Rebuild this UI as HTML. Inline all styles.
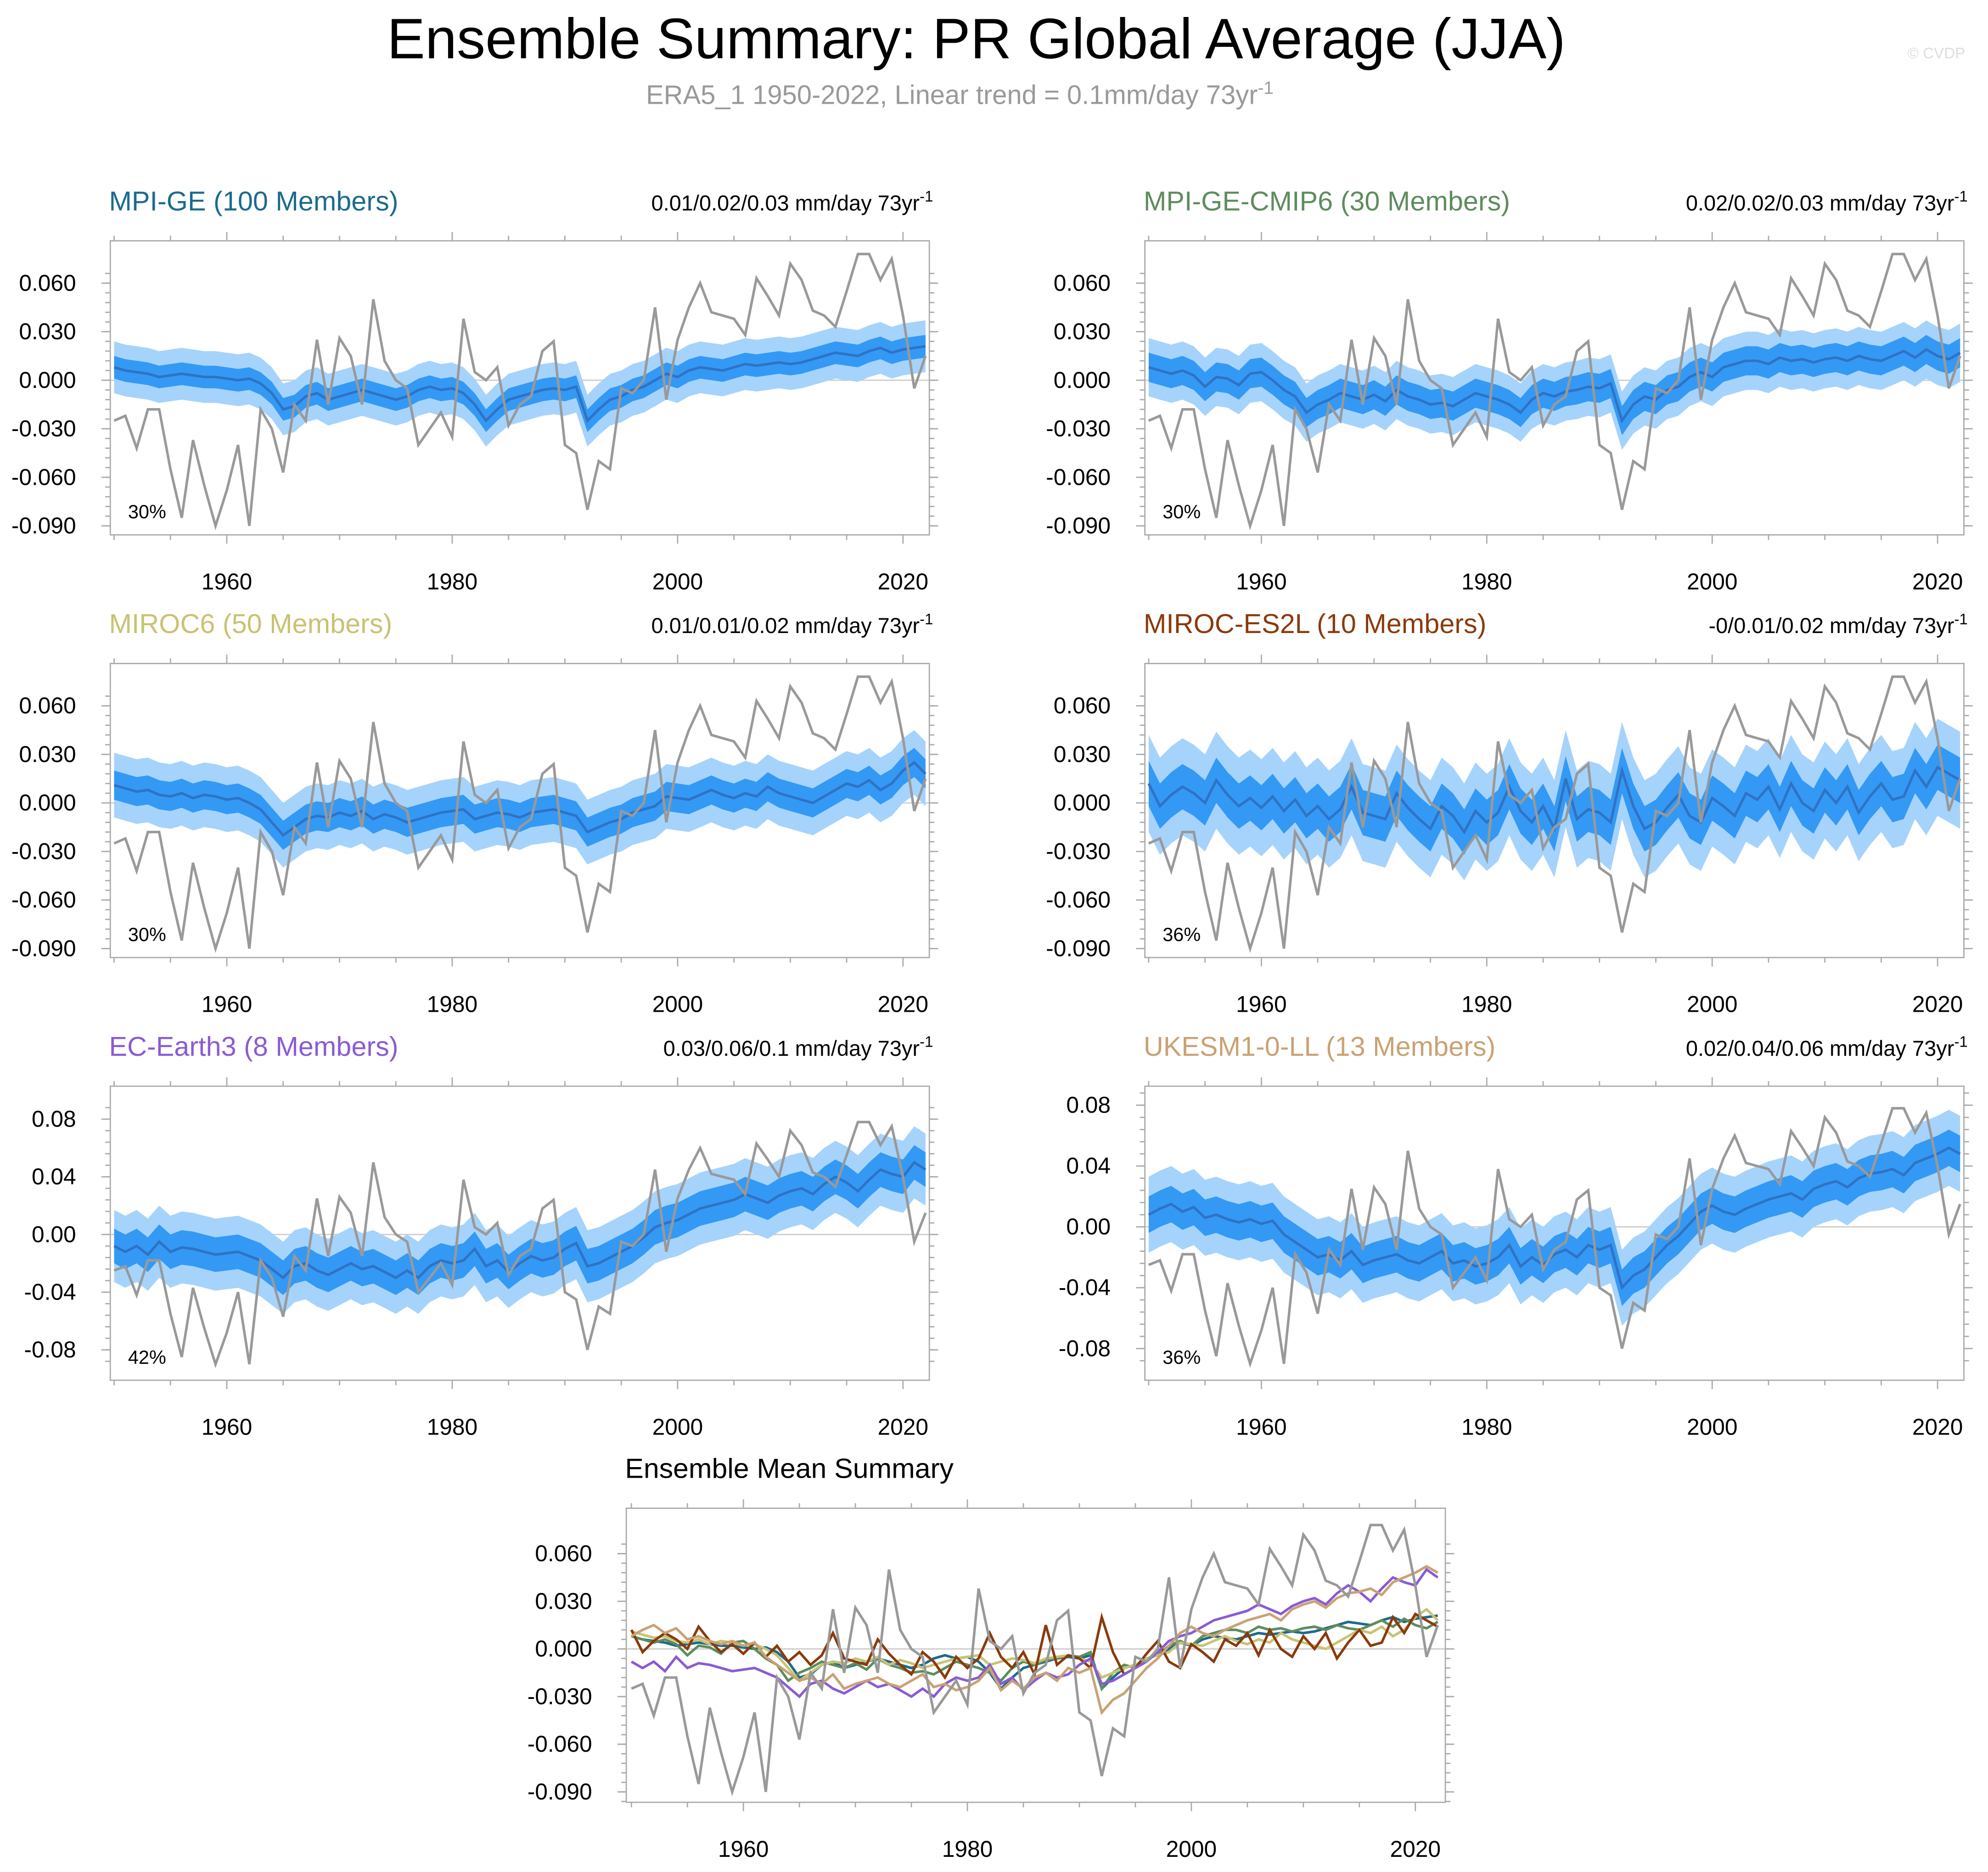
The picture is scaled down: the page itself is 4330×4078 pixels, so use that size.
<!DOCTYPE html>
<html><head><meta charset="utf-8"><style>
html,body{margin:0;padding:0;background:#fff;}
svg{display:block;font-family:"Liberation Sans",Arial,sans-serif;}
</style></head><body>
<svg id="c" width="4330" height="4078" viewBox="0 0 1568 1477" preserveAspectRatio="none" xmlns="http://www.w3.org/2000/svg">
<text x="770" y="46" text-anchor="middle" font-size="45" fill="#000">Ensemble Summary: PR Global Average (JJA)</text>
<text x="757" y="82" text-anchor="middle" font-size="21" fill="#999">ERA5_1 1950-2022, Linear trend = 0.1mm/day 73yr<tspan dy="-8" font-size="14">-1</tspan></text>
<text x="1550" y="46" text-anchor="end" font-size="12" fill="#ddd">© CVDP</text>
</svg>
<script>
const obs=[-0.025,-0.022,-0.042,-0.018,-0.018,-0.055,-0.085,-0.037,-0.065,-0.090,-0.068,-0.040,-0.090,-0.018,-0.030,-0.057,-0.015,-0.025,0.025,-0.015,0.026,0.015,-0.015,0.050,0.012,0.000,-0.005,-0.040,-0.030,-0.020,-0.035,0.038,0.005,0.000,0.008,-0.028,-0.015,-0.010,0.018,0.024,-0.040,-0.045,-0.080,-0.050,-0.055,-0.005,-0.008,0.000,0.045,-0.012,0.025,0.045,0.060,0.042,0.040,0.038,0.028,0.063,0.052,0.040,0.072,0.062,0.043,0.040,0.033,0.055,0.078,0.078,0.062,0.075,0.040,-0.005,0.015];
const mpige=[0.008,0.006,0.005,0.004,0.002,0.003,0.004,0.003,0.002,0.002,0.001,0.000,0.001,-0.002,-0.008,-0.018,-0.016,-0.010,-0.008,-0.012,-0.010,-0.008,-0.006,-0.008,-0.010,-0.012,-0.010,-0.006,-0.004,-0.006,-0.005,-0.008,-0.015,-0.025,-0.018,-0.012,-0.010,-0.008,-0.006,-0.005,-0.006,-0.004,-0.025,-0.018,-0.012,-0.010,-0.006,-0.004,0.000,0.004,0.002,0.006,0.008,0.007,0.006,0.008,0.010,0.009,0.010,0.011,0.010,0.011,0.013,0.015,0.017,0.016,0.015,0.018,0.020,0.017,0.019,0.020,0.021];
const mpicmip6=[0.008,0.006,0.004,0.006,0.003,-0.004,0.002,0.001,-0.003,0.004,0.005,0.000,-0.006,-0.010,-0.020,-0.015,-0.012,-0.008,-0.010,-0.012,-0.009,-0.013,-0.006,-0.010,-0.012,-0.015,-0.014,-0.016,-0.012,-0.008,-0.010,-0.012,-0.015,-0.020,-0.012,-0.008,-0.010,-0.007,-0.006,-0.004,-0.005,-0.002,-0.025,-0.015,-0.010,-0.012,-0.006,-0.004,0.002,0.005,0.002,0.008,0.010,0.012,0.012,0.010,0.014,0.012,0.013,0.011,0.013,0.014,0.012,0.015,0.013,0.012,0.015,0.018,0.014,0.019,0.015,0.013,0.017];
const miroc6=[0.011,0.009,0.007,0.008,0.005,0.004,0.006,0.003,0.005,0.004,0.002,0.003,0.000,-0.004,-0.012,-0.020,-0.015,-0.010,-0.008,-0.009,-0.006,-0.008,-0.005,-0.010,-0.007,-0.009,-0.012,-0.010,-0.008,-0.006,-0.005,-0.004,-0.010,-0.008,-0.006,-0.007,-0.009,-0.006,-0.005,-0.004,-0.006,-0.008,-0.018,-0.015,-0.012,-0.010,-0.006,-0.004,-0.002,0.004,0.003,0.002,0.005,0.008,0.005,0.003,0.006,0.004,0.010,0.006,0.004,0.002,0.000,0.004,0.008,0.012,0.010,0.014,0.008,0.012,0.020,0.025,0.018];
const mirocEs2l=[0.012,-0.002,0.005,0.010,0.006,0.000,0.014,0.005,-0.002,0.003,-0.003,0.004,-0.005,0.002,-0.008,-0.002,-0.010,-0.004,0.010,-0.006,-0.008,-0.010,0.006,-0.003,-0.010,-0.016,-0.002,-0.008,-0.018,-0.005,-0.012,-0.006,0.010,-0.005,-0.012,-0.002,-0.016,0.015,-0.010,-0.004,-0.006,-0.012,0.020,-0.002,-0.016,-0.012,-0.003,0.005,-0.008,-0.012,0.003,-0.002,-0.008,0.006,0.002,0.010,-0.004,0.012,0.000,-0.005,0.008,0.000,0.010,-0.006,0.004,0.012,0.002,0.004,0.020,0.010,0.022,0.018,0.014];
const ecEarth3=[-0.008,-0.012,-0.008,-0.014,-0.005,-0.012,-0.009,-0.010,-0.012,-0.014,-0.013,-0.012,-0.015,-0.018,-0.024,-0.030,-0.022,-0.020,-0.025,-0.028,-0.024,-0.020,-0.024,-0.022,-0.026,-0.030,-0.025,-0.030,-0.022,-0.018,-0.020,-0.018,-0.010,-0.022,-0.018,-0.026,-0.020,-0.015,-0.018,-0.016,-0.010,-0.006,-0.022,-0.020,-0.016,-0.012,-0.008,-0.002,0.005,0.008,0.010,0.014,0.018,0.020,0.022,0.024,0.028,0.025,0.022,0.027,0.030,0.032,0.028,0.035,0.040,0.036,0.030,0.038,0.045,0.042,0.040,0.050,0.045];
const ukesm=[0.008,0.012,0.015,0.010,0.013,0.006,0.008,0.005,0.003,0.005,0.002,0.004,-0.005,-0.010,-0.015,-0.020,-0.018,-0.022,-0.016,-0.025,-0.022,-0.020,-0.018,-0.022,-0.024,-0.020,-0.016,-0.024,-0.022,-0.026,-0.024,-0.020,-0.012,-0.026,-0.020,-0.025,-0.018,-0.015,-0.020,-0.012,-0.015,-0.012,-0.040,-0.032,-0.028,-0.020,-0.012,-0.006,0.002,0.010,0.014,0.010,0.008,0.012,0.015,0.018,0.020,0.022,0.018,0.025,0.028,0.030,0.026,0.032,0.035,0.036,0.038,0.034,0.042,0.045,0.048,0.052,0.048];
const modelNames=["MPI-GE (100 Members)","MPI-GE-CMIP6 (30 Members)","MIROC6 (50 Members)","MIROC-ES2L (10 Members)","EC-Earth3 (8 Members)","UKESM1-0-LL (13 Members)"];
const trendLabels=["0.01/0.02/0.03 mm/day 73yr","0.02/0.02/0.03 mm/day 73yr","0.01/0.01/0.02 mm/day 73yr","-0/0.01/0.02 mm/day 73yr","0.03/0.06/0.1 mm/day 73yr","0.02/0.04/0.06 mm/day 73yr"];
const pctLabels=["30%","30%","30%","36%","42%","36%"];
const innerSpread=[0.007,0.009,0.009,0.014,0.012,0.012];
const outerSpread=[0.016,0.018,0.020,0.030,0.025,0.025];
const yTicks3=[0.06,0.03,0,-0.03,-0.06,-0.09];
const yTicks4=[0.08,0.04,0,-0.04,-0.08];
const xTicks=[1960,1980,2000,2020];
const modelColors=["#1b6b8c","#5e8c5e","#c9c273","#8b3a0c","#8a5bd3","#c9a274"];
const series=[mpige,mpicmip6,miroc6,mirocEs2l,ecEarth3,ukesm];

const NS="http://www.w3.org/2000/svg";
const svg=document.getElementById('c');
function mk(tag,attrs,parent){const e=document.createElementNS(NS,tag);for(const k in attrs)e.setAttribute(k,attrs[k]);(parent||svg).appendChild(e);return e;}

function panel(p){
  const g=mk('g',{});
  
  
  const x0=p.x,x1=p.x+p.w,y0=p.y,y1=p.y+p.h;
  const xs=yr=>p.xa+(yr-1950)*(p.xb-p.xa)/72;
  const ys=v=>p.zero-v*p.ppu;
  const zl=mk('line',{x1:x0,x2:x1,y1:ys(0),y2:ys(0),stroke:'#ccc','stroke-width':1},g);
  
  
  const years=obs.map((_,i)=>1950+i);
  if(p.mean){
    const band=(s,col,nm)=>{
      const up=p.mean.map((v,i)=>xs(years[i])+','+ys(v+s));
      const dn=p.mean.map((v,i)=>xs(years[i])+','+ys(v-s)).reverse();
      const b=mk('polygon',{points:up.concat(dn).join(' '),fill:col},g);
      
      
    };
    band(p.outer,'#a6d3fb','outer-spread-band');
    band(p.inner,'#3499f4','inner-spread-band');
    const ml=mk('polyline',{points:p.mean.map((v,i)=>xs(years[i])+','+ys(v)).join(' '),fill:'none',stroke:'#2f72c4','stroke-width':2},g);
    
    
  }
  if(p.lines){
    p.lines.forEach((s,k)=>{
      const l=mk('polyline',{points:s.map((v,i)=>xs(years[i])+','+ys(v)).join(' '),fill:'none',stroke:modelColors[k],'stroke-width':2},g);
      
      
    });
  }
  const ol=mk('polyline',{points:obs.map((v,i)=>xs(years[i])+','+ys(v)).join(' '),fill:'none',stroke:'#999','stroke-width':2},g);
  
  
  const fr=mk('rect',{x:x0,y:y0,width:p.w,height:p.h,fill:'none',stroke:'#aaa','stroke-width':1},g);
  
  
  for(let yr=1950;yr<=2022;yr+=5){
    const X=xs(yr),maj=(yr%20===0),L=maj?7:4;
    mk('line',{x1:X,x2:X,y1:y1,y2:y1+L,stroke:'#aaa'},g);
    mk('line',{x1:X,x2:X,y1:y0,y2:y0-L,stroke:'#aaa'},g);
  }
  xTicks.forEach(t=>{
    const tx=mk('text',{x:xs(t),y:y1+43,'text-anchor':'middle','font-size':18},g);
    tx.textContent=t;
    
    
  });
  const ticks=p.ticks,step=(ticks[0]-ticks[1])/5;
  for(let v=ticks[0]+step;v>=ticks[ticks.length-1]-step-1e-9;v-=step){
    const Y=ys(v);if(Y<y0||Y>y1)continue;
    mk('line',{x1:x0,x2:x0-4,y1:Y,y2:Y,stroke:'#aaa'},g);
    mk('line',{x1:x1,x2:x1+4,y1:Y,y2:Y,stroke:'#aaa'},g);
  }
  ticks.forEach(t=>{
    const Y=ys(t);
    mk('line',{x1:x0,x2:x0-7,y1:Y,y2:Y,stroke:'#aaa'},g);
    mk('line',{x1:x1,x2:x1+7,y1:Y,y2:Y,stroke:'#aaa'},g);
    const tx=mk('text',{x:x0-27,y:Y+6,'text-anchor':'end','font-size':18},g);
    tx.textContent=p.fmt(t);
    
    
  });
  const ti=mk('text',{x:x0-1,y:y0-24,'font-size':p.titleSize||21.5,fill:p.titleColor},g);
  ti.textContent=p.title;
  
  
  if(p.trend){
    const tr=mk('text',{x:x1+3,y:y0-24,'text-anchor':'end','font-size':17},g);
    tr.textContent=p.trend;
    const sp=mk('tspan',{dy:-7,'font-size':12},tr);sp.textContent='-1';
    
    
  }
  if(p.pct){
    const pc=mk('text',{x:x0+14,y:y1-13,'font-size':15},g);
    pc.textContent=p.pct;
    
    
  }
}
const f3=t=>t.toFixed(3), f2=t=>t.toFixed(2);
const cols=[{x:87,xa:90,xb:730},{x:903,xa:906,xb:1546}];
for(let i=0;i<6;i++){
  const c=cols[i%2],r=Math.floor(i/2);
  const y=190+r*333.5;
  let zero,ppu,ticks,fmt;
  if(r<2){zero=y+110;ppu=38.3/0.03;ticks=yTicks3;fmt=f3;}
  else if(i===4){zero=974;ppu=45.5/0.04;ticks=yTicks4;fmt=f2;}
  else {zero=968;ppu=48/0.04;ticks=yTicks4;fmt=f2;}
  panel({name:'panel-'+modelNames[i].split(' ')[0].toLowerCase(),x:c.x,w:646,y:y,h:232,xa:c.xa,xb:c.xb,zero,ppu,ticks,fmt,
    mean:series[i],inner:innerSpread[i],outer:outerSpread[i],title:modelNames[i],titleColor:modelColors[i],trend:trendLabels[i],pct:pctLabels[i]});
}
panel({name:'panel-ensemble-mean-summary',x:494,w:646,y:1190,h:232,xa:498,xb:1134,zero:1301,ppu:37.6/0.03,ticks:yTicks3,fmt:f3,
  lines:series,title:'Ensemble Mean Summary',titleColor:'#000',titleSize:22});
</script>
</body></html>
